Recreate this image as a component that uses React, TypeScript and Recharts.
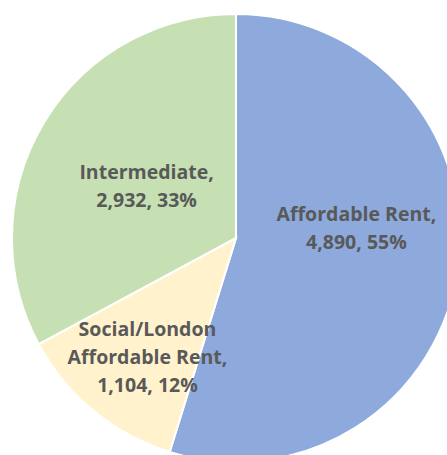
import React from 'react';
import { PieChart, Pie, Cell } from 'recharts';

const categories = ['Affordable Rent', 'Social/London Affordable Rent', 'Intermediate'];
const values = [4890, 1104, 2932];
const colors = ['#8EA9DB', '#FFF2CC', '#C6E0B4'];

// label placement tweaks (fraction of radius, angle nudge in degrees)
const labelRadius = [0.54, 0.66, 0.465];
const labelNudge = [14, 2.7, 0];

const total = values.reduce((a, b) => a + b, 0);
const data = categories.map((name, i) => ({ name, value: values[i] }));

const RAD = Math.PI / 180;

const wrap = (text: string, max: number) => {
  const words = text.split(' ');
  const lines: string[] = [];
  let cur = '';
  words.forEach((w) => {
    const next = cur ? cur + ' ' + w : w;
    if (next.length > max && cur) {
      lines.push(cur);
      cur = w;
    } else {
      cur = next;
    }
  });
  if (cur) lines.push(cur);
  return lines;
};

const renderLabel = (props: any) => {
  const { cx, cy, midAngle, outerRadius, index } = props;
  const angle = (midAngle + labelNudge[index]) * RAD;
  const r = outerRadius * labelRadius[index];
  const x = cx + r * Math.cos(-angle);
  const y = cy + r * Math.sin(-angle);
  const pct = Math.round((values[index] / total) * 100);
  const lines = wrap(categories[index] + ',', 16);
  lines.push(`${values[index].toLocaleString('en-US')}, ${pct}%`);
  const lh = 28;
  const y0 = y - ((lines.length - 1) * lh) / 2;
  return (
    <text
      x={x}
      y={y0}
      fill="#595959"
      textAnchor="middle"
      dominantBaseline="central"
      fontFamily="'Open Sans', sans-serif"
      fontWeight="bold"
      fontSize={19.5}
    >
      {lines.map((l, i) => (
        <tspan key={i} x={x} y={y0 + i * lh}>
          {l}
        </tspan>
      ))}
    </text>
  );
};

export default function App() {
  return (
    <div style={{ position: 'absolute', left: 0, top: 0, width: 447, height: 455, background: '#fff', overflow: 'hidden' }}>
      <PieChart width={447} height={455} margin={{ top: 0, right: 0, bottom: 0, left: 0 }}>
        <Pie
          data={data}
          dataKey="value"
          nameKey="name"
          cx={236}
          cy={238}
          outerRadius={224}
          startAngle={90}
          endAngle={-270}
          stroke="#ffffff"
          strokeWidth={2}
          label={renderLabel}
          labelLine={false}
          isAnimationActive={false}
        >
          {data.map((d, i) => (
            <Cell key={d.name} fill={colors[i]} />
          ))}
        </Pie>
      </PieChart>
    </div>
  );
}
